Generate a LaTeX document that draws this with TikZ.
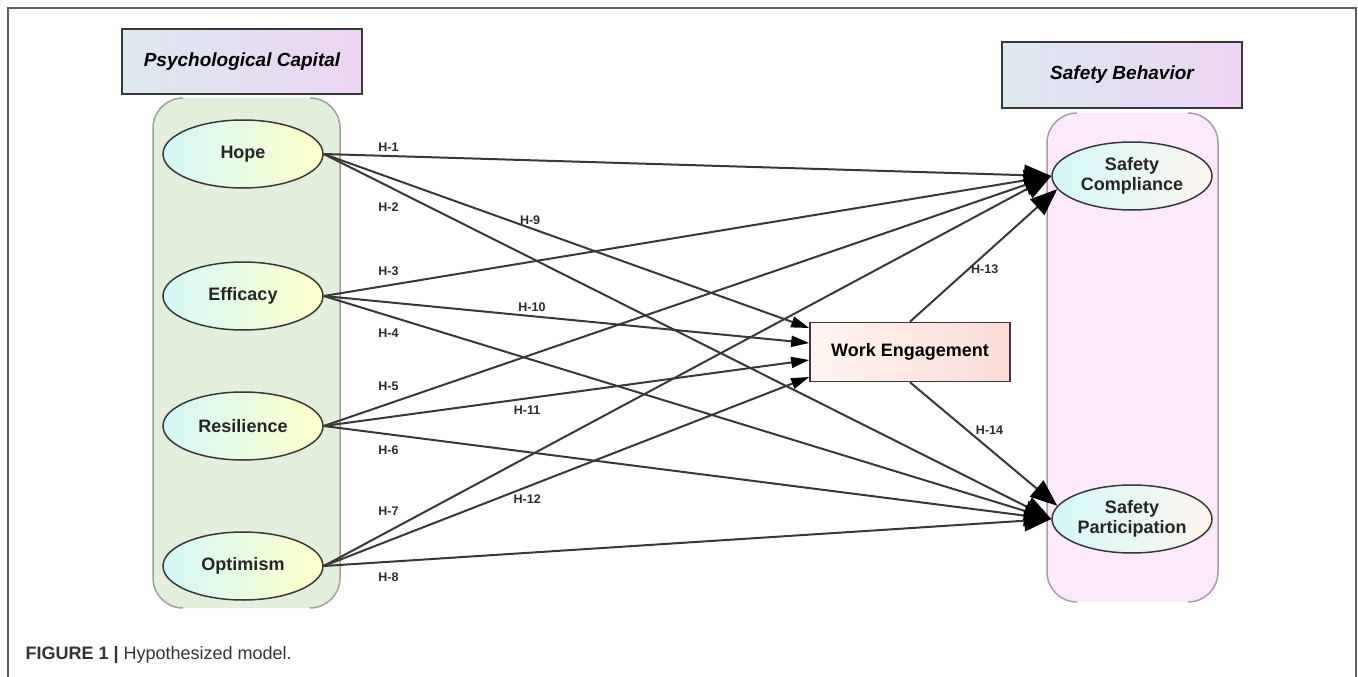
\documentclass[tikz,border=0pt]{standalone}
\usepackage{fontspec}
\setmainfont{Liberation Sans}
\usetikzlibrary{shapes.geometric,arrows.meta}

\definecolor{framegray}{HTML}{5E5E5E}
\definecolor{linegray}{HTML}{383838}
\definecolor{labgray}{HTML}{2A2A2A}
\definecolor{pcgreen}{HTML}{E2EFDA}
\definecolor{pcborder}{HTML}{A0A0A0}
\definecolor{sbpink}{HTML}{FCEAFC}
\definecolor{sbborder}{HTML}{A89CA8}
\definecolor{headleft}{HTML}{DCE9EF}
\definecolor{headright}{HTML}{EDD4F4}
\definecolor{latcyan}{HTML}{D3F8F8}
\definecolor{latyellow}{HTML}{FFFFCA}
\definecolor{outcream}{HTML}{FDF5EE}
\definecolor{weleft}{HTML}{FFF5F0}
\definecolor{weright}{HTML}{FCDCD7}

\tikzset{
  latent/.style={shape=ellipse, draw=linegray, line width=1.5pt,
    minimum width=160pt, minimum height=68pt, inner sep=0pt,
    left color=latcyan, right color=latyellow, text=black!85,
    font=\fontsize{18}{20}\selectfont\bfseries},
  outcome/.style={latent, right color=outcream, align=center},
  header/.style={rectangle, draw=linegray, line width=2pt,
    left color=headleft, right color=headright,
    minimum width=240pt, minimum height=65pt,
    font=\fontsize{19}{21}\selectfont\bfseries\itshape},
  mediator/.style={rectangle, draw=linegray, line width=1.6pt,
    left color=weleft, right color=weright,
    minimum width=200pt, minimum height=59pt,
    font=\fontsize{18}{20}\selectfont\bfseries},
  hyp/.style={draw=linegray, line width=2pt,
    -{Triangle[length=27pt,width=21pt,black]}},
  hypmed/.style={draw=linegray, line width=2pt,
    -{Triangle[length=18pt,width=11pt,black]}},
  hlab/.style={font=\fontsize{12.5}{12.5}\selectfont\bfseries, text=labgray, inner sep=0pt}
}

\begin{document}
\begin{tikzpicture}[x=1pt, y=-1pt]
    \useasboundingbox (0,0) rectangle (1358,677);
    % outer frame
    \draw[framegray, line width=1.5pt] (8,677) -- (8,8) -- (1356,8) -- (1356,677);

    % group boxes
    \fill[pcgreen, rounded corners=30pt] (153,98) rectangle (340,608);
    \draw[pcborder, line width=1.5pt, rounded corners=30pt] (183,98) -- (153,98) -- (153,608) -- (183,608);
    \draw[pcborder, line width=1.5pt, rounded corners=30pt] (310,98) -- (340,98) -- (340,608) -- (310,608);
    \fill[sbpink, rounded corners=30pt] (1047,113) rectangle (1218,602);
    \draw[sbborder, line width=1.5pt, rounded corners=30pt] (1077,113) -- (1047,113) -- (1047,602) -- (1077,602);
    \draw[sbborder, line width=1.5pt, rounded corners=30pt] (1188,113) -- (1218,113) -- (1218,602) -- (1188,602);

    \node[header] at (242,62) (pcap) {Psychological Capital};
    \node[header] at (1122,75) (sbeh) {Safety Behavior};

    \node[latent] at (243,154) (hope) {Hope};
    \node[latent] at (243,296) (eff) {Efficacy};
    \node[latent] at (243,426) (res) {Resilience};
    \node[latent] at (243,566) (opt) {Optimism};
    \node[mediator] at (910,352) (we) {Work Engagement};
    \node[outcome] at (1132,176) (sc) {Safety\\Compliance};
    \node[outcome] at (1132,519) (sp) {Safety\\Participation};

    % direct paths
    \path (hope.east) edge[hyp] node[hlab, pos=0.089, yshift=9pt] (h1) {H-1} (sc.west);
    \path (hope.east) edge[hyp] node[hlab, pos=0.089, yshift=-21pt] (h2) {H-2} (sp.west);
    \path (eff.east) edge[hyp] node[hlab, pos=0.089, yshift=14pt] (h3) {H-3} (sc.west);
    \path (eff.east) edge[hyp] node[hlab, pos=0.089, yshift=-17pt] (h4) {H-4} (sp.west);
    \path (res.east) edge[hyp] node[hlab, pos=0.089, yshift=17pt] (h5) {H-5} (sc.west);
    \path (res.east) edge[hyp] node[hlab, pos=0.089, yshift=-16pt] (h6) {H-6} (sp.west);
    \path (opt.east) edge[hyp] node[hlab, pos=0.089, yshift=20pt] (h7) {H-7} (sc.west);
    \path (opt.east) edge[hyp] node[hlab, pos=0.089, yshift=-15pt] (h8) {H-8} (sp.west);

    % paths to work engagement
    \path (hope.east) edge[hypmed] node[hlab, pos=0.425, yshift=8pt] (h9) {H-9} ([yshift=24pt]we.west);
    \path (eff.east) edge[hypmed] node[hlab, pos=0.429, yshift=9pt] (h10) {H-10} ([yshift=9pt]we.west);
    \path (res.east) edge[hypmed] node[hlab, pos=0.419, yshift=-12pt] (h11) {H-11} ([yshift=-8pt]we.west);
    \path (opt.east) edge[hypmed] node[hlab, pos=0.419, yshift=-12pt] (h12) {H-12} ([yshift=-25pt]we.west);

    % work engagement to safety behavior
    \path (we.north) edge[hyp] node[hlab, pos=0.507, yshift=-15pt] (h13) {H-13} (sc.190);
    \path (we.south) edge[hyp] node[hlab, pos=0.54, yshift=19pt] (h14) {H-14} (sp.170);

    \node[anchor=west, font=\fontsize{18}{18}\selectfont, text=black!80] at (22,655) (cap)
      {\textbf{FIGURE 1 |} Hypothesized model.};
\end{tikzpicture}
\end{document}
